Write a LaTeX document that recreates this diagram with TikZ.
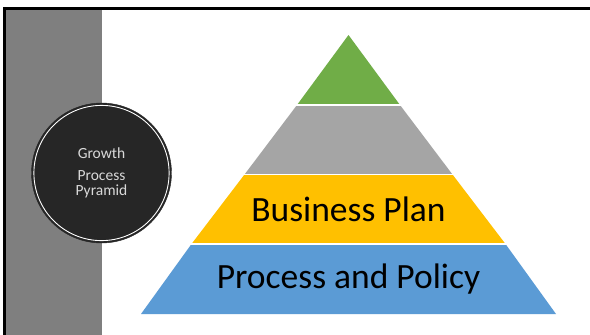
\documentclass[tikz,border=0pt]{standalone}
\usepackage{fontspec}
\setmainfont{Carlito}
\definecolor{bargrey}{HTML}{7F7F7F}
\definecolor{badgedark}{HTML}{262626}
\definecolor{badgetext}{HTML}{D9D9D9}
\definecolor{tiergreen}{HTML}{70AD47}
\definecolor{tiergrey}{HTML}{A5A5A5}
\definecolor{tieryellow}{HTML}{FFC000}
\definecolor{tierblue}{HTML}{5B9BD5}
\tikzset{
  tiertext/.style={font=\fontsize{35.5}{42}\selectfont, text=black},
  badgeline/.style={font=\fontsize{15.5}{18}\selectfont, text=badgetext, anchor=base},
}
\begin{document}
\begin{tikzpicture}[x=1pt,y=-1pt]
    \useasboundingbox (0,0) rectangle (590,335);
    \fill[white] (0,0) rectangle (590,335);

    % side bar and frame
    \fill[bargrey] (6,10) rectangle (102,335);
    \fill[black] (3,7) rectangle (590,10);
    \fill[black] (3,7) rectangle (6,335);

    % badge
    \node[circle, fill=badgedark, draw=badgedark, minimum size=140pt, inner sep=0pt] (badge) at (101.5,173) {};
    \draw[white, line width=0.9pt] (badge.center) circle (67.6);
    \node[badgeline] (growth) at (101.5,158.5) {Growth};
    \node[badgeline] (process) at (101.5,180) {Process};
    \node[badgeline] (pyramid) at (101.5,195) {Pyramid};

    % pyramid tiers
    \fill[tierblue] (141,314) -- (556,314) -- (505.5,244) -- (191.5,244) -- cycle;
    \fill[tieryellow] (191.5,244) -- (505.5,244) -- (452.5,174.5) -- (244.5,174.5) -- cycle;
    \fill[tiergrey] (244.5,174.5) -- (452.5,174.5) -- (400,105) -- (297,105) -- cycle;
    \fill[tiergreen] (297,105) -- (400,105) -- (348.5,35) -- cycle;
    \draw[white, line width=1.6pt] (185,244) -- (512,244);
    \draw[white, line width=1.6pt] (238,174.5) -- (459,174.5);
    \draw[white, line width=1.6pt] (290,105) -- (407,105);

    \node[tiertext] (plan) at (348.5,209.5) {Business Plan};
    \node[tiertext] (policy) at (348.5,279) {Process and Policy};
  \end{tikzpicture}
\end{document}
